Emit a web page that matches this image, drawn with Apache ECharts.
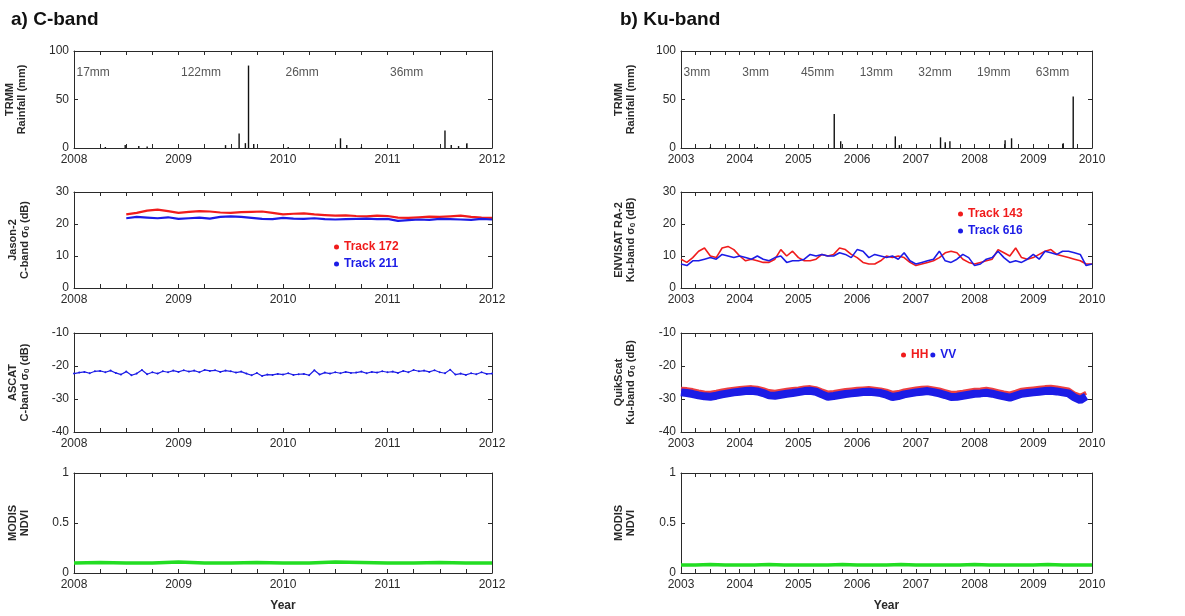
<!DOCTYPE html>
<html><head><meta charset="utf-8">
<script src="https://cdn.jsdelivr.net/npm/echarts@6/dist/echarts.min.js"></script>
<style>html,body{margin:0;padding:0;background:#fff}#c{width:1185px;height:616px}</style>
</head><body><div id="c"></div>
<script>
// ---------------- DATA ----------------
// C-band TRMM rainfall spikes (decimal year, mm)
const rainCYears  = [2008.30, 2008.49, 2008.62, 2008.70, 2009.45, 2009.58, 2009.64, 2009.67, 2009.72, 2010.05, 2010.55, 2010.61, 2010.75, 2011.55, 2011.61, 2011.68, 2011.76];
const rainCValues = [1, 3, 2, 1.5, 3, 15, 5, 85, 4, 1, 10, 3, 1, 18, 3, 2, 5];
const rainCLabelYears = [2008, 2009, 2010, 2011];
const rainCLabels = ['17mm', '122mm', '26mm', '36mm'];

// Ku-band TRMM rainfall spikes
const rainKYears  = [2003.50, 2004.30, 2005.61, 2005.72, 2006.65, 2006.72, 2007.42, 2007.50, 2007.58, 2008.52, 2008.63, 2009.51, 2009.68];
const rainKValues = [1, 1, 35, 7, 12, 3, 11, 6, 7, 8, 10, 5, 53];
const rainKLabelYears = [2003, 2004, 2005, 2006, 2007, 2008, 2009];
const rainKLabels = ['3mm', '3mm', '45mm', '13mm', '32mm', '19mm', '63mm'];

// Jason-2 C-band sigma0 (dB)
const jasonYears = [2008.5,2008.6,2008.7,2008.8,2008.9,2009.0,2009.1,2009.2,2009.3,2009.4,2009.5,2009.6,2009.7,2009.8,2009.9,2010.0,2010.1,2010.2,2010.3,2010.4,2010.5,2010.6,2010.7,2010.8,2010.9,2011.0,2011.1,2011.2,2011.3,2011.4,2011.5,2011.6,2011.7,2011.8,2011.9,2012.0];
const track172 = [23.0,23.5,24.2,24.5,24.0,23.5,23.8,24.0,23.9,23.6,23.5,23.7,23.8,23.9,23.5,23.0,23.2,23.3,23.0,22.8,22.6,22.7,22.5,22.4,22.6,22.5,22.0,21.9,22.1,22.3,22.2,22.4,22.6,22.2,22.0,21.9];
const track211 = [21.8,22.2,22.0,21.8,22.1,21.6,21.8,22.0,21.7,22.2,22.4,22.2,21.9,21.6,21.5,21.9,21.7,21.6,21.8,21.5,21.4,21.5,21.6,21.7,21.5,21.6,21.0,21.2,21.4,21.3,21.6,21.5,21.4,21.3,21.6,21.4];

// ASCAT C-band sigma0 (dB)
const ascatYears = [2008.00,2008.05,2008.10,2008.15,2008.20,2008.25,2008.30,2008.35,2008.40,2008.45,2008.50,2008.55,2008.60,2008.65,2008.70,2008.75,2008.80,2008.85,2008.90,2008.95,
2009.00,2009.05,2009.10,2009.15,2009.20,2009.25,2009.30,2009.35,2009.40,2009.45,2009.50,2009.55,2009.60,2009.65,2009.70,2009.75,2009.80,2009.85,2009.90,2009.95,
2010.00,2010.05,2010.10,2010.15,2010.20,2010.25,2010.30,2010.35,2010.40,2010.45,2010.50,2010.55,2010.60,2010.65,2010.70,2010.75,2010.80,2010.85,2010.90,2010.95,
2011.00,2011.05,2011.10,2011.15,2011.20,2011.25,2011.30,2011.35,2011.40,2011.45,2011.50,2011.55,2011.60,2011.65,2011.70,2011.75,2011.80,2011.85,2011.90,2011.95,2012.00];
const ascatValues = [-22.3,-22.0,-21.8,-22.2,-21.6,-21.5,-21.9,-21.4,-22.1,-22.6,-21.7,-22.8,-22.3,-21.2,-22.5,-21.9,-22.3,-21.6,-21.9,-21.4,
-21.8,-21.3,-21.7,-21.4,-21.9,-21.2,-21.5,-21.3,-21.8,-21.4,-21.6,-22.0,-21.7,-22.3,-22.8,-22.1,-23.0,-22.6,-22.7,-22.4,
-22.6,-22.2,-22.7,-22.5,-22.4,-22.8,-21.3,-22.6,-22.0,-22.3,-21.9,-22.2,-21.8,-22.1,-22.0,-21.7,-22.2,-21.8,-22.0,-21.6,
-21.9,-21.7,-22.1,-21.5,-21.9,-21.2,-21.6,-21.4,-21.8,-21.3,-21.9,-22.2,-21.1,-22.6,-22.3,-22.7,-22.2,-22.5,-21.9,-22.4,-22.3];

// MODIS NDVI
const ndviCYears = [2008.0,2008.25,2008.5,2008.75,2009.0,2009.25,2009.5,2009.75,2010.0,2010.25,2010.5,2010.75,2011.0,2011.25,2011.5,2011.75,2012.0];
const ndviCValues = [0.10,0.105,0.10,0.10,0.11,0.10,0.10,0.105,0.10,0.10,0.11,0.105,0.10,0.10,0.105,0.10,0.10];
const ndviKYears = [2003.0,2003.25,2003.5,2003.75,2004.0,2004.25,2004.5,2004.75,2005.0,2005.25,2005.5,2005.75,2006.0,2006.25,2006.5,2006.75,2007.0,2007.25,2007.5,2007.75,2008.0,2008.25,2008.5,2008.75,2009.0,2009.25,2009.5,2009.75,2010.0];
const ndviKValues = [0.08,0.08,0.085,0.08,0.08,0.08,0.085,0.08,0.08,0.08,0.08,0.085,0.08,0.08,0.08,0.085,0.08,0.08,0.08,0.08,0.085,0.08,0.08,0.08,0.08,0.085,0.08,0.08,0.08];

// ENVISAT RA-2 Ku-band sigma0 (dB)
const envYears = [2003.0,2003.1,2003.2,2003.3,2003.4,2003.5,2003.6,2003.7,2003.8,2003.9,2004.0,2004.1,2004.2,2004.3,2004.4,2004.5,2004.6,2004.7,2004.8,2004.9,
2005.0,2005.1,2005.2,2005.3,2005.4,2005.5,2005.6,2005.7,2005.8,2005.9,2006.0,2006.1,2006.2,2006.3,2006.4,2006.5,2006.6,2006.7,2006.8,2006.9,
2007.0,2007.1,2007.2,2007.3,2007.4,2007.5,2007.6,2007.7,2007.8,2007.9,2008.0,2008.1,2008.2,2008.3,2008.4,2008.5,2008.6,2008.7,2008.8,2008.9,
2009.0,2009.1,2009.2,2009.3,2009.4,2009.5,2009.6,2009.7,2009.8,2009.9,2010.0];
const track143 = [9.0,8.0,9.5,11.5,12.5,10.0,9.5,12.5,13.0,12.0,10.0,8.5,9.0,8.5,8.0,8.0,9.0,12.0,10.0,11.5,
9.5,8.5,8.5,9.0,10.5,10.0,10.5,12.5,12.0,10.5,9.5,8.0,7.5,7.5,8.5,10.0,9.5,10.0,9.5,8.0,
7.0,7.5,8.0,8.5,9.5,11.0,11.5,11.0,9.0,8.0,7.5,8.0,8.5,9.0,12.0,11.0,10.0,12.5,9.5,9.0,
9.5,10.5,11.5,12.0,10.5,10.0,9.5,9.0,8.5,7.5,7.5];
const track616 = [7.5,7.0,8.5,8.5,9.0,9.5,9.0,10.5,10.0,9.5,10.0,9.5,9.0,10.0,9.0,8.5,9.5,10.0,8.0,8.5,
8.5,9.0,10.5,10.0,10.5,10.0,10.0,11.0,10.5,9.5,12.0,11.5,9.5,10.5,10.0,9.5,10.0,9.0,11.0,8.5,
7.5,8.0,8.5,9.0,11.5,8.5,8.0,9.0,10.5,9.5,7.0,7.5,9.0,9.5,11.5,9.5,8.0,8.5,8.0,9.0,
10.5,9.0,11.5,11.0,10.5,11.5,11.5,11.0,10.5,7.0,7.5];

// QuikScat Ku-band sigma0 (dB)
const qsYears = [2003.0,2003.1,2003.2,2003.3,2003.4,2003.5,2003.6,2003.7,2003.8,2003.9,2004.0,2004.1,2004.2,2004.3,2004.4,2004.5,2004.6,2004.7,2004.8,2004.9,
2005.0,2005.1,2005.2,2005.3,2005.4,2005.5,2005.6,2005.7,2005.8,2005.9,2006.0,2006.1,2006.2,2006.3,2006.4,2006.5,2006.6,2006.7,2006.8,2006.9,
2007.0,2007.1,2007.2,2007.3,2007.4,2007.5,2007.6,2007.7,2007.8,2007.9,2008.0,2008.1,2008.2,2008.3,2008.4,2008.5,2008.6,2008.7,2008.8,2008.9,
2009.0,2009.1,2009.2,2009.3,2009.4,2009.5,2009.6,2009.7,2009.8,2009.9];
const qsVV = [-28.0,-28.2,-28.5,-28.9,-29.2,-29.3,-29.0,-28.6,-28.3,-28.0,-27.8,-27.6,-27.5,-27.7,-28.2,-28.9,-29.0,-28.7,-28.4,-28.2,
-27.9,-27.6,-27.5,-27.8,-28.6,-29.3,-29.1,-28.8,-28.5,-28.3,-28.1,-27.9,-27.8,-28.0,-28.2,-28.7,-29.4,-29.1,-28.6,-28.3,
-28.0,-27.8,-27.6,-27.9,-28.3,-28.8,-29.4,-29.3,-29.0,-28.7,-28.4,-28.3,-28.1,-28.4,-28.8,-29.2,-29.6,-29.0,-28.4,-28.2,
-28.0,-27.8,-27.6,-27.5,-27.7,-28.0,-28.3,-29.5,-30.3,-29.2];
const qsHH = [-26.9,-27.0,-27.3,-27.7,-28.0,-28.1,-27.8,-27.4,-27.1,-26.9,-26.7,-26.5,-26.4,-26.6,-27.0,-27.6,-27.8,-27.5,-27.2,-27.0,
-26.8,-26.5,-26.4,-26.7,-27.4,-28.0,-27.9,-27.6,-27.3,-27.1,-26.9,-26.8,-26.7,-26.9,-27.1,-27.5,-28.1,-27.9,-27.4,-27.1,
-26.8,-26.6,-26.5,-26.8,-27.1,-27.6,-28.1,-28.0,-27.8,-27.5,-27.2,-27.1,-26.9,-27.2,-27.6,-28.0,-28.3,-27.8,-27.2,-27.0,
-26.8,-26.6,-26.4,-26.3,-26.5,-26.8,-27.1,-28.3,-29.0,-28.1];

// ---------------- CHART ----------------
const FONT = '"Liberation Sans", Arial, sans-serif';
const RED = '#f01c1c', BLUE = '#1c1ce6', GREEN = '#22dd22', INK = '#2a2a2a';
const zip = (xs, ys) => xs.map((x, i) => [x, ys[i]]);

const rowsTop = [51, 192, 333, 473];
const rowsH = [97, 96, 99, 100];
const colL = [{left: 74, width: 418, min: 2008, max: 2012}, {left: 681, width: 411, min: 2003, max: 2010}];
const subRich = {sub: {fontSize: 8, fontWeight: 'bold', fontFamily: FONT, color: INK, verticalAlign: 'bottom', padding: [5, 0, 0, 0]}};
const yDefs = [
  [{min: 0, max: 100, interval: 50, name: 'TRMM\nRainfall (mm)'},
   {min: 0, max: 30, interval: 10, name: 'Jason-2\nC-band σ{sub|0} (dB)'},
   {min: -40, max: -10, interval: 10, name: 'ASCAT\nC-band σ{sub|0} (dB)'},
   {min: 0, max: 1, interval: 0.5, name: 'MODIS\nNDVI'}],
  [{min: 0, max: 100, interval: 50, name: 'TRMM\nRainfall (mm)'},
   {min: 0, max: 30, interval: 10, name: 'ENVISAT RA-2\nKu-band σ{sub|0} (dB)'},
   {min: -40, max: -10, interval: 10, name: 'QuikScat\nKu-band σ{sub|0} (dB)'},
   {min: 0, max: 1, interval: 0.5, name: 'MODIS\nNDVI'}]
];

const grid = [], xAxis = [], yAxis = [];
let p = 0;
const pIndex = {};
for (let c = 0; c < 2; c++) {
  for (let r = 0; r < 4; r++) {
    const col = colL[c];
    grid.push({left: col.left, width: col.width, top: rowsTop[r], height: rowsH[r], show: false, containLabel: false});
    const tickCommon = {show: true, inside: true, length: 4, lineStyle: {color: INK, width: 1}};
    const minorCommon = {show: true, splitNumber: 4, length: 4, lineStyle: {color: INK, width: 1}};
    const xb = {type: 'value', gridIndex: p, position: 'bottom', min: col.min, max: col.max, interval: 1,
      axisLine: {onZero: false, lineStyle: {color: INK, width: 1}}, axisTick: tickCommon, minorTick: minorCommon,
      splitLine: {show: false},
      axisLabel: {color: INK, fontSize: 12, fontFamily: FONT, margin: 6, formatter: v => String(v)}};
    if (r === 3) { xb.name = 'Year'; xb.nameLocation = 'middle'; xb.nameGap = 27; xb.nameTextStyle = {fontWeight: 'bold', fontSize: 12, fontFamily: FONT, color: INK}; }
    xAxis.push(xb);
    xAxis.push({type: 'value', gridIndex: p, position: 'top', min: col.min, max: col.max, interval: 1,
      axisLine: {onZero: false, lineStyle: {color: INK, width: 1}}, axisTick: tickCommon, minorTick: minorCommon,
      splitLine: {show: false}, axisLabel: {show: false}});
    const yd = yDefs[c][r];
    yAxis.push({type: 'value', gridIndex: p, position: 'left', min: yd.min, max: yd.max, interval: yd.interval,
      name: yd.name, nameLocation: 'middle', nameGap: c === 0 ? (r === 0 ? 46 : 43) : 44,
      nameTextStyle: {fontWeight: 'bold', fontSize: 11, fontFamily: FONT, color: INK, lineHeight: 12, rich: subRich},
      axisLine: {onZero: false, lineStyle: {color: INK, width: 1}}, axisTick: tickCommon, splitLine: {show: false},
      axisLabel: {color: INK, fontSize: 12, fontFamily: FONT, margin: 5}});
    yAxis.push({type: 'value', gridIndex: p, position: 'right', min: yd.min, max: yd.max, interval: yd.interval,
      axisLine: {onZero: false, lineStyle: {color: INK, width: 1}}, axisTick: tickCommon, splitLine: {show: false},
      axisLabel: {show: false}});
    pIndex[c + '_' + r] = p;
    p++;
  }
}
const ax = (c, r) => ({xAxisIndex: 2 * pIndex[c + '_' + r], yAxisIndex: 2 * pIndex[c + '_' + r]});

const rainLabelSeries = (c, years, labels) => Object.assign({
  type: 'scatter', silent: true, symbolSize: 1, itemStyle: {color: 'rgba(0,0,0,0)'},
  data: years.map((y, i) => ({value: [y, 78], name: labels[i]})),
  label: {show: true, position: 'right', distance: 2, formatter: '{b}', color: INK, fontSize: 12, fontFamily: FONT}
}, ax(c, 0));

const series = [
  Object.assign({type: 'bar', name: 'rainC', barWidth: 1.4, itemStyle: {color: '#111'}, data: zip(rainCYears, rainCValues)}, ax(0, 0)),
  rainLabelSeries(0, rainCLabelYears, rainCLabels),
  Object.assign({type: 'line', name: 'Track 172', color: RED, showSymbol: false, lineStyle: {width: 2.2, color: RED}, data: zip(jasonYears, track172)}, ax(0, 1)),
  Object.assign({type: 'line', name: 'Track 211', color: BLUE, showSymbol: false, lineStyle: {width: 2.2, color: BLUE}, data: zip(jasonYears, track211)}, ax(0, 1)),
  Object.assign({type: 'line', name: 'ASCAT', color: BLUE, symbol: 'circle', symbolSize: 2, showSymbol: true, lineStyle: {width: 1.2, color: BLUE}, data: zip(ascatYears, ascatValues)}, ax(0, 2)),
  Object.assign({type: 'line', name: 'NDVI C', showSymbol: false, lineStyle: {width: 3.5, color: GREEN}, data: zip(ndviCYears, ndviCValues)}, ax(0, 3)),

  Object.assign({type: 'bar', name: 'rainK', barWidth: 1.4, itemStyle: {color: '#111'}, data: zip(rainKYears, rainKValues)}, ax(1, 0)),
  rainLabelSeries(1, rainKLabelYears, rainKLabels),
  Object.assign({type: 'line', name: 'Track 143', color: RED, showSymbol: false, lineStyle: {width: 1.6, color: RED}, data: zip(envYears, track143)}, ax(1, 1)),
  Object.assign({type: 'line', name: 'Track 616', color: BLUE, showSymbol: false, lineStyle: {width: 1.6, color: BLUE}, data: zip(envYears, track616)}, ax(1, 1)),
  Object.assign({type: 'line', name: 'HH', color: RED, showSymbol: false, lineStyle: {width: 4, color: '#ee4040'}, data: zip(qsYears, qsHH)}, ax(1, 2)),
  Object.assign({type: 'line', name: 'VV', color: BLUE, showSymbol: false, lineStyle: {width: 8, color: BLUE}, data: zip(qsYears, qsVV)}, ax(1, 2)),
  Object.assign({type: 'line', name: 'NDVI K', showSymbol: false, lineStyle: {width: 3.5, color: GREEN}, data: zip(ndviKYears, ndviKValues)}, ax(1, 3))
];
series.forEach(s => { s.animation = false; });

const legText = (color) => ({color: color, fontWeight: 'bold', fontSize: 12, fontFamily: FONT});
const legendBase = {selectedMode: false, icon: 'circle', itemWidth: 5, itemHeight: 5, padding: 0};
const option = {
  backgroundColor: '#fff',
  animation: false,
  title: [
    {text: 'a) C-band', left: 6, top: 5, textStyle: {fontSize: 19, fontWeight: 'bold', fontFamily: FONT, color: '#111'}},
    {text: 'b) Ku-band', left: 615, top: 5, textStyle: {fontSize: 19, fontWeight: 'bold', fontFamily: FONT, color: '#111'}}
  ],
  legend: [
    Object.assign({}, legendBase, {orient: 'vertical', left: 334, top: 241, itemGap: 5,
      data: [{name: 'Track 172', textStyle: legText(RED)}, {name: 'Track 211', textStyle: legText(BLUE)}]}),
    Object.assign({}, legendBase, {orient: 'vertical', left: 958, top: 208, itemGap: 5,
      data: [{name: 'Track 143', textStyle: legText(RED)}, {name: 'Track 616', textStyle: legText(BLUE)}]}),
    Object.assign({}, legendBase, {orient: 'horizontal', left: 901, top: 349, itemGap: 2,
      data: [{name: 'HH', textStyle: legText(RED)}, {name: 'VV', textStyle: legText(BLUE)}]})
  ],
  grid: grid, xAxis: xAxis, yAxis: yAxis, series: series
};
const chart = echarts.init(document.getElementById('c'), null, {renderer: 'canvas'});
chart.setOption(option);
</script></body></html>
